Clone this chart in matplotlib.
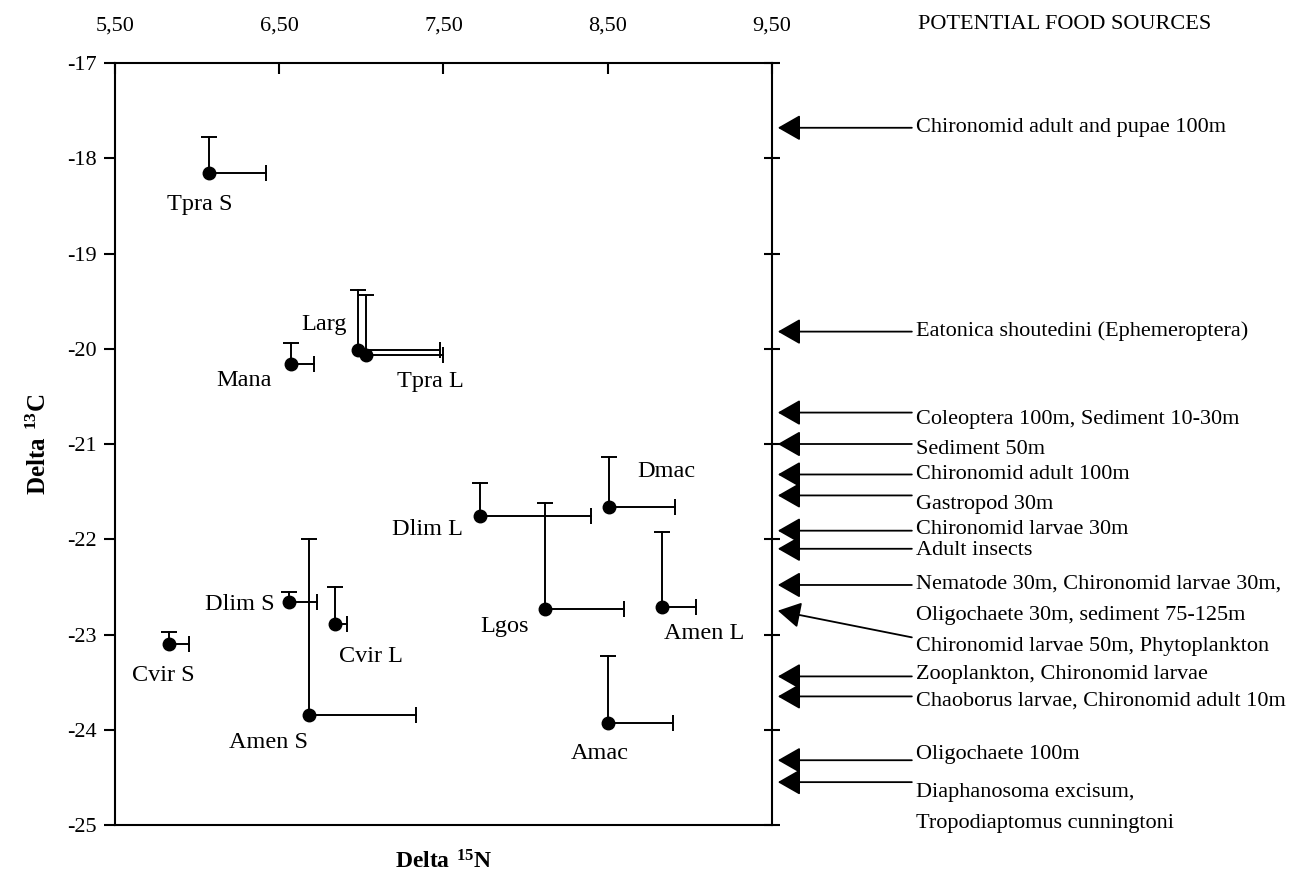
import matplotlib
matplotlib.use('Agg')
import matplotlib.pyplot as plt
import matplotlib.transforms as mtransforms

plt.rcParams['font.family'] = 'Liberation Serif'
plt.rcParams['mathtext.fontset'] = 'custom'
plt.rcParams['mathtext.rm'] = 'Liberation Serif'
plt.rcParams['mathtext.bf'] = 'Liberation Serif:bold'
plt.rcParams['axes.unicode_minus'] = False

# species: delta 15N, delta 13C, one-sided error (right / up)
species = ['Tpra S', 'Larg', 'Tpra L', 'Mana', 'Dmac', 'Dlim L', 'Lgos',
           'Amen L', 'Dlim S', 'Cvir L', 'Cvir S', 'Amen S', 'Amac']
d15n = [6.07, 6.98, 7.03, 6.57, 8.51, 7.72, 8.12, 8.83, 6.56, 6.84, 5.83, 6.68, 8.50]
d13c = [-18.15, -20.01, -20.07, -20.16, -21.66, -21.76, -22.73, -22.71,
        -22.66, -22.89, -23.10, -23.84, -23.93]
err_n = [0.35, 0.50, 0.47, 0.14, 0.40, 0.68, 0.48, 0.21, 0.17, 0.07, 0.12, 0.65, 0.40]
err_c = [0.37, 0.63, 0.63, 0.22, 0.52, 0.35, 1.11, 0.79, 0.11, 0.39, 0.13, 1.84, 0.70]
# label offsets in pixels from each point
lab_dx = [-9, -34, 64, -47, 57, -52, -41, 42, -49, 36, -6, -40, -8]
lab_dy = [-32, 25, -26, -17, 35, -13, -18, -27, -2, -32, -31, -28, -30]

# potential food sources on the d13C scale
arrow_head = [-17.68, -19.82, -20.67, -21.0, -21.32, -21.54, -21.91, -22.10,
              -22.48, -22.75, -23.44, -23.65, -24.32, -24.55]
arrow_tail = [-17.68, -19.82, -20.67, -21.0, -21.32, -21.54, -21.91, -22.10,
              -22.48, -23.03, -23.44, -23.65, -24.32, -24.55]
source_text = ['Chironomid adult and pupae 100m',
               'Eatonica shoutedini (Ephemeroptera)',
               'Coleoptera 100m, Sediment 10-30m',
               'Sediment 50m',
               'Chironomid adult 100m',
               'Gastropod 30m',
               'Chironomid larvae 30m',
               'Adult insects',
               'Nematode 30m, Chironomid larvae 30m,',
               'Oligochaete 30m, sediment 75-125m',
               'Chironomid larvae 50m, Phytoplankton',
               'Zooplankton, Chironomid larvae',
               'Chaoborus larvae, Chironomid adult 10m',
               'Oligochaete 100m',
               'Diaphanosoma excisum,',
               'Tropodiaptomus cunningtoni']
source_y = [-17.68, -19.82, -20.74, -21.06, -21.32, -21.64, -21.90, -22.12,
            -22.47, -22.80, -23.13, -23.42, -23.70, -24.26, -24.66, -24.98]

x_ticks = [5.5, 6.5, 7.5, 8.5, 9.5]
x_tick_labels = ['5,50', '6,50', '7,50', '8,50', '9,50']
y_ticks = list(range(-25, -16))

fig = plt.figure(figsize=(13.11, 8.80), dpi=100)
ax = fig.add_axes([0.0877, 0.0625, 0.5011, 0.8659])

lw = 1.4
for i in range(len(species)):
    x, y = d15n[i], d13c[i]
    x2, y2 = x + err_n[i], y + err_c[i]
    # one-sided bars: to the right and upwards, with a cap at the far end
    ax.plot([x, x2], [y, y], color='black', lw=lw, zorder=2)
    ax.plot([x, x], [y, y2], color='black', lw=lw, zorder=2)
    ax.plot(x2, y, marker='|', ms=11, mew=lw, color='black', zorder=2)
    ax.plot(x, y2, marker='_', ms=11, mew=lw, color='black', zorder=2)
    ax.plot(x, y, 'o', color='black', ms=9, zorder=3)
    ax.annotate(species[i], (x, y), xytext=(lab_dx[i], lab_dy[i]),
                textcoords='offset pixels', ha='center', va='center', fontsize=17.5)

ax.set_xlim(5.5, 9.5)
ax.set_ylim(-25, -17)

for s in ax.spines.values():
    s.set_linewidth(1.5)

ax.xaxis.tick_top()
ax.set_xticks(x_ticks)
ax.set_xticklabels(x_tick_labels)
ax.tick_params(axis='x', direction='in', length=8, width=1.5, pad=20, labelsize=16)
ax.set_yticks(y_ticks)
ax.tick_params(axis='y', direction='out', length=8, width=1.5, pad=5, labelsize=16,
               left=True, right=False)

# ticks crossing the right spine
trans_r = mtransforms.blended_transform_factory(ax.transAxes, ax.transData)
for yt in y_ticks:
    ax.plot([0.988, 1.012], [yt, yt], transform=trans_r, color='black', lw=1.5,
            clip_on=False, solid_capstyle='butt')

ax.set_xlabel(r'$\mathbf{Delta\ ^{15}N}$', fontsize=17)
ax.xaxis.set_label_position('bottom')
ax.xaxis.labelpad = 18
ax.set_ylabel(r'$\mathbf{Delta\ ^{13}C}$', fontsize=18, labelpad=12)

for yh, yt in zip(arrow_head, arrow_tail):
    ax.annotate('', xy=(1.009, yh), xycoords=trans_r, xytext=(1.213, yt),
                textcoords=trans_r, annotation_clip=False,
                arrowprops=dict(arrowstyle='-|>,head_length=0.7,head_width=0.4',
                                mutation_scale=20, color='black', lw=1.3,
                                shrinkA=0, shrinkB=0))
for txt, yt in zip(source_text, source_y):
    ax.text(1.22, yt, txt, transform=trans_r, ha='left', va='center',
            fontsize=16, clip_on=False)

fig.text(0.700, 0.972, 'POTENTIAL FOOD SOURCES', ha='left', va='center', fontsize=16)

fig.savefig('out.png', dpi=100)
